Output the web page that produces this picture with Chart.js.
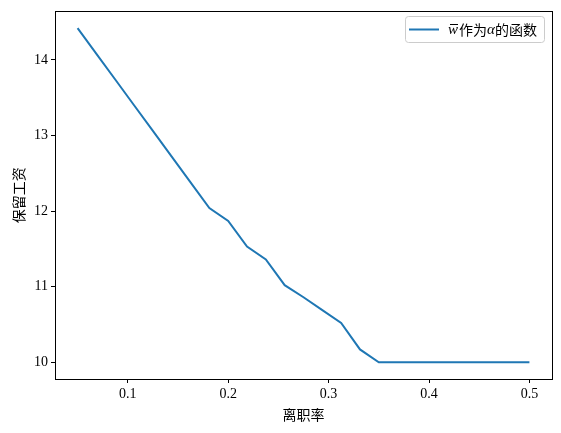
<!DOCTYPE html>
<html>
<head>
<meta charset="utf-8">
<script src="https://cdn.jsdelivr.net/npm/chart.js@4.4.0/dist/chart.umd.min.js"></script>
<style>
  html, body { margin: 0; padding: 0; background: #fff; }
  #wrap { width: 561px; height: 433px; }
</style>
</head>
<body>
<div id="wrap"><canvas id="c" width="561" height="433"></canvas></div>
<script>
// ── Data ──────────────────────────────────
const alphas = [0.05, 0.06875, 0.0875, 0.10625, 0.125, 0.14375, 0.1625, 0.18125,
  0.2, 0.21875, 0.2375, 0.25625, 0.275, 0.29375, 0.3125, 0.33125, 0.35,
  0.36875, 0.3875, 0.40625, 0.425, 0.44375, 0.4625, 0.48125, 0.5];
const wbar = [14.42, 14.08, 13.74, 13.40, 13.06, 12.72, 12.38, 12.04,
  11.87, 11.53, 11.36, 11.02, 10.86, 10.69, 10.52, 10.17, 10.0,
  10.0, 10.0, 10.0, 10.0, 10.0, 10.0, 10.0, 10.0];
const xTicks = [0.1, 0.2, 0.3, 0.4, 0.5];
const yTicks = [10, 11, 12, 13, 14];
const xLabel = '离职率';
const yLabel = '保留工资';

const SERIF = '"Liberation Serif", "DejaVu Serif", "Noto Sans CJK SC", serif';
const CJK = '"Noto Sans CJK SC", sans-serif';
const BLUE = '#1f77b4';

// frame round the plot area plus the in-plot legend
const framePlugin = {
  id: 'frame',
  afterDraw(chart) {
    const { ctx, chartArea: a } = chart;
    ctx.save();
    ctx.strokeStyle = '#000';
    ctx.lineWidth = 1;
    ctx.strokeRect(Math.round(a.left) + 0.5, Math.round(a.top) + 0.5,
      Math.round(a.right - a.left), Math.round(a.bottom - a.top));

    // legend
    const bx = 405, by = 16, bw = 139, bh = 26;
    ctx.fillStyle = 'rgba(255,255,255,0.8)';
    ctx.strokeStyle = '#cccccc';
    ctx.beginPath();
    ctx.roundRect(bx + 0.5, by + 0.5, bw, bh, 3);
    ctx.fill();
    ctx.stroke();
    ctx.strokeStyle = BLUE;
    ctx.lineWidth = 2;
    ctx.beginPath();
    ctx.moveTo(409, 29.5);
    ctx.lineTo(439, 29.5);
    ctx.stroke();

    ctx.fillStyle = '#000';
    ctx.textBaseline = 'middle';
    let x = 448;
    const y = 30;
    const parts = [
      ['italic 15px ' + SERIF, 'w'],
      ['14px ' + CJK, '作为'],
      ['italic 15px ' + SERIF, 'α'],
      ['14px ' + CJK, '的函数'],
    ];
    parts.forEach(([f, t], i) => {
      ctx.font = f;
      const w = ctx.measureText(t).width;
      ctx.fillText(t, x, y);
      if (i === 0) {
        // bar over w
        ctx.lineWidth = 1;
        ctx.strokeStyle = '#000';
        ctx.beginPath();
        ctx.moveTo(x + 2, y - 5.5);
        ctx.lineTo(x + w, y - 5.5);
        ctx.stroke();
      }
      x += w + (i === 0 ? 1 : 0);
    });
    ctx.restore();
  }
};

new Chart(document.getElementById('c'), {
  type: 'line',
  data: {
    datasets: [{
      label: 'w̄作为α的函数',
      data: alphas.map((a, i) => ({ x: a, y: wbar[i] })),
      borderColor: BLUE,
      borderWidth: 2,
      pointRadius: 0,
      tension: 0,
      fill: false,
    }]
  },
  options: {
    responsive: false,
    animation: false,
    layout: { padding: { left: 10, top: 9, right: 9, bottom: 10 } },
    plugins: { legend: { display: false }, tooltip: { enabled: false } },
    scales: {
      x: {
        type: 'linear',
        min: 0.0275, max: 0.5225,
        afterBuildTicks: s => { s.ticks = xTicks.map(v => ({ value: v })); },
        afterFit: s => { s.height = 44; },
        grid: { drawOnChartArea: false, drawTicks: true, tickLength: 4, tickColor: '#000' },
        border: { display: false },
        ticks: { color: '#000', padding: 3, maxRotation: 0, font: { family: SERIF, size: 14 },
          callback: v => v.toFixed(1) },
        title: { display: true, text: xLabel, color: '#000', padding: { top: 0, bottom: 0 },
          font: { family: CJK, size: 14 } },
      },
      y: {
        type: 'linear',
        min: 9.779, max: 14.641,
        afterBuildTicks: s => { s.ticks = yTicks.map(v => ({ value: v })); },
        afterFit: s => { s.width = 45; },
        grid: { drawOnChartArea: false, drawTicks: true, tickLength: 4, tickColor: '#000' },
        border: { display: false },
        ticks: { color: '#000', padding: 3, font: { family: SERIF, size: 14 },
          callback: v => String(v) },
        title: { display: true, text: yLabel, color: '#000', padding: { top: 0, bottom: 0 },
          font: { family: CJK, size: 14 } },
      }
    }
  },
  plugins: [framePlugin]
});
</script>
</body>
</html>
